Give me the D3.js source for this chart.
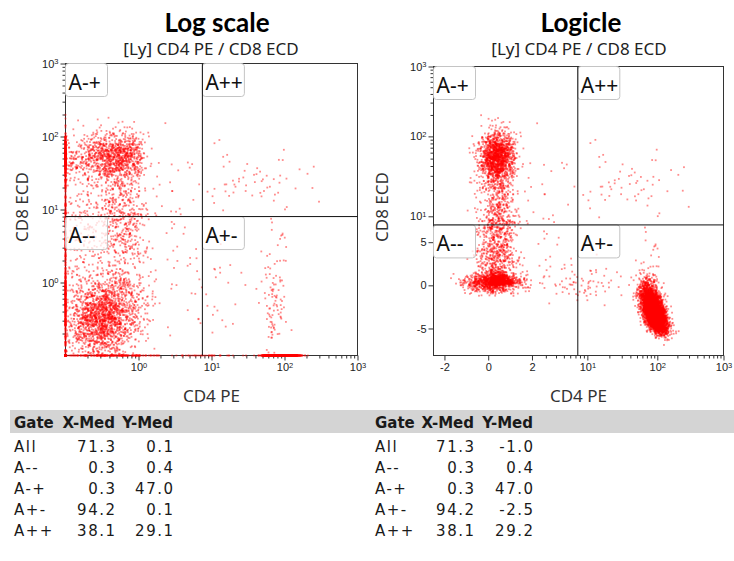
<!DOCTYPE html>
<html>
<head>
<meta charset="utf-8">
<script src="https://cdn.jsdelivr.net/npm/d3@7"></script>
<style>
  body { margin: 0; background: #fff; }
  svg { display: block; }
</style>
</head>
<body>
<div id="chart"></div>
<script>
(function() {
    // ---- data ----
    // event clusters (values in channel units; "log" = centre/spread given in decades)
    const clusterNames  = ['A-- core', 'A-- spread', 'A-+ core', 'A-+ smear', 'A+- core', 'A+- tail', 'A++', 'low bridge', 'high bridge'];
    const clusterCount  = [1500, 900, 1400, 1000, 5200, 40, 45, 90, 50];
    const clusterXLog   = [true, false, false, false, true, true, true, true, true];
    const clusterXMean  = [-0.5, 0.2, 0.35, 0.35, 1.95, 1.93, 1.6, 0.8, 0.5];
    const clusterXSd    = [0.22, 0.55, 0.35, 0.4, 0.09, 0.08, 0.35, 0.35, 0.35];
    const clusterYLog   = [true, false, true, true, false, true, true, false, true];
    const clusterYMean  = [-0.5, 0.3, 1.72, 0.8, -2.8, 0.1, 1.45, 0.2, 1.2];
    const clusterYSd    = [0.25, 0.5, 0.17, 0.45, 1.3, 0.6, 0.22, 1.0, 0.4];
    const clusterCorr   = [0.1, 0, 0, 0, -0.55, 0, 0, 0, 0];

    const gateX = 7.5, gateY = 8;
    const gateLabels = ['A-+', 'A++', 'A--', 'A+-'];

    const logTicks = [1, 10, 100, 1000];
    const logMinor = [0.1, 1, 10, 100].flatMap(d => [2, 3, 4, 5, 6, 7, 8, 9].map(k => k * d));
    const logicleXTicks = [-2, 0, 2, 10, 100, 1000];
    const logicleXMinor = [3, 4, 5, 6, 7, 8, 9].concat([10, 100].flatMap(d => [2, 3, 4, 5, 6, 7, 8, 9].map(k => k * d)));
    const logicleYTicks = [-5, 0, 5, 10, 100, 1000];
    const logicleYMinor = [10, 100].flatMap(d => [2, 3, 4, 5, 6, 7, 8, 9].map(k => k * d));

    const tableGates   = ['All', 'A--', 'A-+', 'A+-', 'A++'];
    const logXMed      = [71.3, 0.3, 0.3, 94.2, 38.1];
    const logYMed      = [0.1, 0.4, 47.0, 0.1, 29.1];
    const logicleXMed  = [71.3, 0.3, 0.3, 94.2, 38.1];
    const logicleYMed  = [-1.0, 0.4, 47.0, -2.5, 29.2];

    // ---- events ----
    const rng = d3.randomLcg(0.271828);
    const norm = d3.randomNormal.source(rng)(0, 1);
    const events = [];
    clusterNames.forEach((name, i) => {
      for (let k = 0; k < clusterCount[i]; k++) {
        const z1 = norm(), z2 = norm();
        const r = clusterCorr[i];
        const zy = r * z1 + Math.sqrt(1 - r * r) * z2;
        const xv = clusterXMean[i] + clusterXSd[i] * z1;
        const yv = clusterYMean[i] + clusterYSd[i] * zy;
        events.push({
          x: clusterXLog[i] ? Math.pow(10, xv) : xv,
          y: clusterYLog[i] ? Math.pow(10, yv) : yv
        });
      }
    });

    // logicle-style transform: value -> decades from zero
    function logicle(p, a) {
      const S = u => a * (Math.pow(10, u) - p * p * Math.pow(10, -u / p) + p * p - 1);
      return v => {
        const t = Math.abs(v);
        let lo = 0, hi = 6;
        for (let i = 0; i < 40; i++) {
          const m = (lo + hi) / 2;
          if (S(m) < t) lo = m; else hi = m;
        }
        return Math.sign(v) * (lo + hi) / 2;
      };
    }

    const svg = d3.select('#chart')
      .append('svg')
      .attr('width', 734)
      .attr('height', 561);

    const tickFont = 'Liberation Sans, Arial, sans-serif';

    function styleTicks(ax, values) {
      ax.select('.domain').remove();
      ax.selectAll('.tick line').attr('stroke', '#333');
      if (!values) return;
      ax.selectAll('.tick text')
        .attr('fill', '#222')
        .style('font-family', tickFont)
        .style('font-size', '11px')
        .each(function(d, i) {
          const v = values[i];
          const t = d3.select(this);
          if (v !== 1 && v < 10) { t.text(v); return; }
          t.text('10');
          t.append('tspan').attr('dy', '-0.45em').style('font-size', '7.5px').text(Math.round(Math.log10(v)));
        });
    }

    function panel(cfg) {
      const g = svg.append('g');
      const px = v => cfg.xs(cfg.tx(v));
      const py = v => cfg.ys(cfg.ty(v));
      const [x0, x1] = cfg.xs.range();
      const [y1, y0] = cfg.ys.range();

      g.append('text')
        .attr('x', cfg.titleX).attr('y', 32)
        .attr('text-anchor', 'middle')
        .style('font-family', 'Lato, sans-serif')
        .style('font-weight', 'bold')
        .style('font-size', '26px')
        .text(cfg.title);

      g.append('text')
        .attr('x', cfg.subX).attr('y', 55)
        .attr('text-anchor', 'middle')
        .attr('fill', '#222')
        .style('font-family', 'Noto Sans, sans-serif')
        .style('font-size', '17px')
        .text('[Ly] CD4 PE / CD8 ECD');

      // axes
      const yMaj = g.append('g').attr('transform', `translate(${x0},0)`)
        .call(d3.axisLeft(cfg.ys).tickValues(cfg.yTicks.map(cfg.ty)).tickSize(5).tickPadding(2));
      styleTicks(yMaj, cfg.yTicks);
      const yMin = g.append('g').attr('transform', `translate(${x0},0)`)
        .call(d3.axisLeft(cfg.ys).tickValues(cfg.yMinor.map(cfg.ty)).tickSize(3).tickFormat(''));
      styleTicks(yMin, null);

      const xMaj = g.append('g').attr('transform', `translate(0,${y1})`)
        .call(d3.axisBottom(cfg.xs).tickValues(cfg.xTicks.map(cfg.tx)).tickSize(5).tickPadding(3));
      styleTicks(xMaj, cfg.xTicks);
      const xMin = g.append('g').attr('transform', `translate(0,${y1})`)
        .call(d3.axisBottom(cfg.xs).tickValues(cfg.xMinor.map(cfg.tx)).tickSize(3).tickFormat(''));
      styleTicks(xMin, null);

      g.append('rect')
        .attr('x', x0).attr('y', y0)
        .attr('width', x1 - x0).attr('height', y1 - y0)
        .attr('fill', 'none')
        .attr('stroke', '#333');

      // dots
      g.append('g')
        .selectAll('rect')
        .data(events)
        .join('rect')
          .attr('x', d => px(d.x) - 0.9)
          .attr('y', d => py(d.y) - 0.9)
          .attr('width', 1.8)
          .attr('height', 1.8)
          .attr('fill', '#ff0000')
          .attr('fill-opacity', 0.45);

      const gx = px(gateX), gy = py(gateY);
      const corners = [[x0, y0], [gx, y0], [x0, gy], [gx, gy]];
      const boxes = g.append('g')
        .selectAll('g')
        .data(gateLabels)
        .join('g')
          .attr('transform', (d, i) => `translate(${corners[i][0]},${corners[i][1]})`);
      boxes.append('rect')
        .attr('width', 42).attr('height', 33).attr('rx', 3)
        .attr('fill', '#fff').attr('fill-opacity', 0.75)
        .attr('stroke', '#c4c4c4');
      boxes.append('text')
        .attr('x', 3).attr('y', 26)
        .attr('fill', '#111')
        .style('font-family', 'Noto Sans, sans-serif')
        .style('font-size', '21px')
        .text(d => d);

      g.append('line')
        .attr('x1', gx).attr('x2', gx).attr('y1', y0).attr('y2', y1)
        .attr('stroke', '#111');
      g.append('line')
        .attr('x1', x0).attr('x2', x1).attr('y1', gy).attr('y2', gy)
        .attr('stroke', '#111');

      g.append('text')
        .attr('x', (x0 + x1) / 2).attr('y', 402)
        .attr('text-anchor', 'middle')
        .attr('fill', '#333')
        .style('font-family', 'Noto Sans, sans-serif')
        .style('font-size', '17px')
        .text('CD4 PE');

      g.append('text')
        .attr('transform', `translate(${cfg.yTitleX},207) rotate(-90)`)
        .attr('text-anchor', 'middle')
        .attr('fill', '#333')
        .style('font-family', 'Noto Sans, sans-serif')
        .style('font-size', '17px')
        .text('CD8 ECD');
    }

    // log scale panel
    panel({
      title: 'Log scale', titleX: 217, subX: 211, yTitleX: 28,
      xs: d3.scaleLog().domain([0.1, 1000]).range([65.5, 357.5]).clamp(true),
      ys: d3.scaleLog().domain([0.1, 1000]).range([355.5, 63.5]).clamp(true),
      tx: v => v, ty: v => v,
      xTicks: logTicks, xMinor: logMinor,
      yTicks: logTicks, yMinor: logMinor
    });

    // logicle panel
    const lx = logicle(3.3, 0.26), ly = logicle(4, 0.611);
    panel({
      title: 'Logicle', titleX: 581, subX: 579, yTitleX: 388,
      xs: d3.scaleLinear().domain([lx(-2.76), lx(1000)]).range([433.5, 723.5]).clamp(true),
      ys: d3.scaleLinear().domain([ly(-10.3), ly(1000)]).range([355.5, 66.5]).clamp(true),
      tx: lx, ty: ly,
      xTicks: logicleXTicks, xMinor: logicleXMinor,
      yTicks: logicleYTicks, yMinor: logicleYMinor
    });

    // stats tables
    svg.append('rect')
      .attr('x', 10).attr('y', 410)
      .attr('width', 724).attr('height', 23)
      .attr('fill', '#d4d4d4');

    function table(gx, xr, yr, xMed, yMed) {
      const g = svg.append('g')
        .attr('fill', '#1a1a1a')
        .style('font-family', 'DejaVu Sans, sans-serif')
        .style('font-size', '15px');
      const head = g.append('g').style('font-weight', 'bold');
      head.append('text').attr('x', gx).attr('y', 428).text('Gate');
      head.append('text').attr('x', xr).attr('y', 428).attr('text-anchor', 'end').text('X-Med');
      head.append('text').attr('x', yr).attr('y', 428).attr('text-anchor', 'end').text('Y-Med');

      const rows = g.append('g').style('letter-spacing', '1.5px')
        .selectAll('g')
        .data(tableGates)
        .join('g')
          .attr('transform', (d, i) => `translate(0,${452 + i * 21})`);
      rows.append('text').attr('x', gx).text(d => d);
      rows.append('text').attr('x', xr + 1.5).attr('text-anchor', 'end').text((d, i) => xMed[i].toFixed(1));
      rows.append('text').attr('x', yr + 1.5).attr('text-anchor', 'end').text((d, i) => yMed[i].toFixed(1));
    }

    table(14, 115, 173, logXMed, logYMed);
    table(375, 474, 533, logicleXMed, logicleYMed);
})();
</script>
</body>
</html>
